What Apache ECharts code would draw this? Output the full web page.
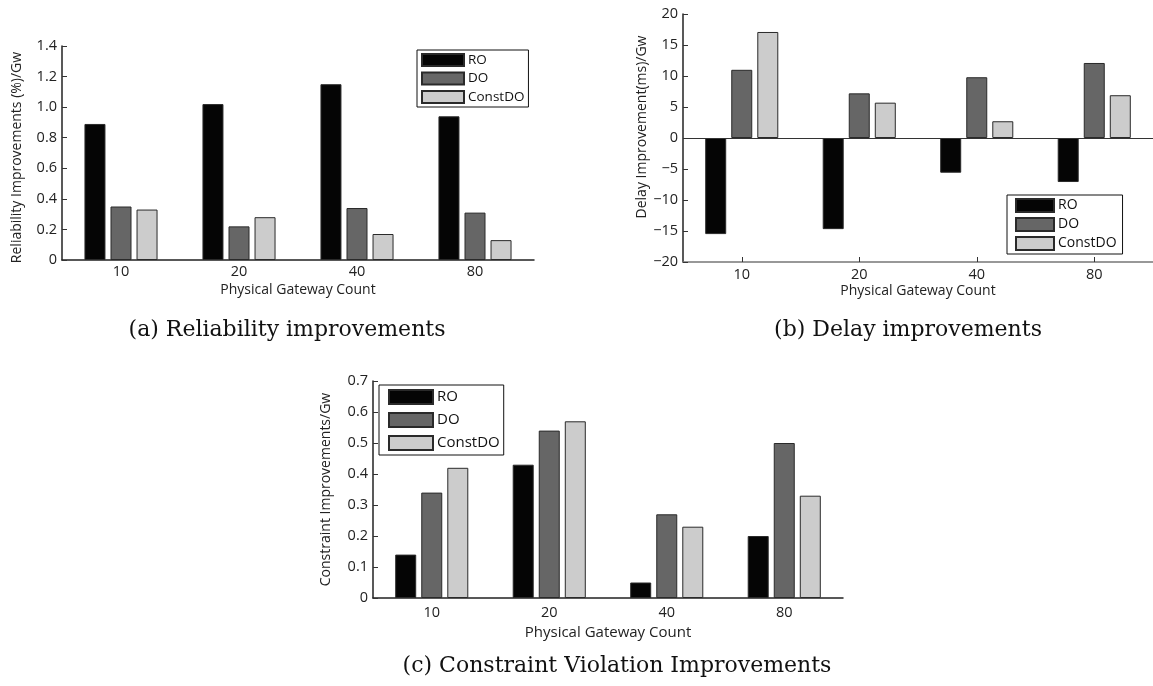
<!DOCTYPE html>
<html>
<head>
<meta charset="utf-8">
<script src="https://cdn.jsdelivr.net/npm/echarts@6/dist/echarts.min.js"></script>
<style>
  html, body { margin: 0; padding: 0; background: #fff; }
  #chart { width: 1153px; height: 686px; }
</style>
</head>
<body>
<div id="chart"></div>
<script>
const categorias = ["10", "20", "40", "80"];
const nombresSeries = ["RO", "DO", "ConstDO"];

// (a) reliability
const fiabRO = [0.89, 1.02, 1.15, 0.94];
const fiabDO = [0.35, 0.22, 0.34, 0.31];
const fiabConstDO = [0.33, 0.28, 0.17, 0.13];

// (b) delay
const retardoRO = [-15.5, -14.7, -5.6, -7.1];
const retardoDO = [11.0, 7.2, 9.8, 12.1];
const retardoConstDO = [17.1, 5.7, 2.7, 6.9];

// (c) constraint violation
const restrRO = [0.14, 0.43, 0.05, 0.20];
const restrDO = [0.34, 0.54, 0.27, 0.50];
const restrConstDO = [0.42, 0.57, 0.23, 0.33];

const colores = ["#050505", "#666666", "#cccccc"];
const fuente = "'Open Sans', sans-serif";
const fuenteTitulo = "22px 'DejaVu Serif', serif";

function ejeX(idx, gap, margen, colorLinea, tamNombre) {
    return {
        type: "category",
        gridIndex: idx,
        data: categorias,
        position: "bottom",
        name: "Physical Gateway Count",
        nameLocation: "middle",
        nameGap: gap,
        nameTextStyle: {color: "#222", fontSize: tamNombre, fontFamily: fuente},
        axisLine: {onZero: false, lineStyle: {color: colorLinea, width: 1.5}},
        axisTick: {show: true, inside: true, alignWithLabel: true, length: 5, lineStyle: {color: "#333"}},
        axisLabel: {color: "#222", fontSize: 14.5, fontFamily: fuente, margin: margen},
        splitLine: {show: false}
    };
}

function ejeY(idx, nombre, min, max, intervalo, gap, relleno, formato) {
    return {
        type: "value",
        gridIndex: idx,
        min: min,
        max: max,
        interval: intervalo,
        name: nombre,
        nameLocation: "middle",
        nameGap: gap,
        nameTextStyle: {color: "#222", fontSize: 14, fontFamily: fuente, padding: relleno},
        axisLine: {show: true, lineStyle: {color: "#222", width: 1.5}},
        axisTick: {show: true, inside: true, length: 5, lineStyle: {color: "#333"}},
        axisLabel: {color: "#222", fontSize: 14.5, fontFamily: fuente, margin: 5, formatter: formato},
        splitLine: {show: false}
    };
}

function serie(nombre, i, idx, datos) {
    return {
        name: nombre,
        type: "bar",
        xAxisIndex: idx,
        yAxisIndex: idx,
        data: datos,
        barWidth: 21,
        barGap: "24%",
        itemStyle: {color: colores[i], borderColor: "#2a2a2a", borderWidth: 1}
    };
}

function leyenda(izq, arriba, ancho, alto, espacio, tam, relleno) {
    return {
        orient: "vertical",
        left: izq,
        top: arriba,
        data: nombresSeries,
        icon: "rect",
        itemWidth: ancho,
        itemHeight: alto,
        itemGap: espacio,
        padding: relleno,
        borderColor: "#111",
        borderWidth: 1,
        backgroundColor: "#fff",
        selectedMode: false,
        textStyle: {color: "#111", fontSize: tam, fontFamily: fuente, padding: [0, 0, 0, -1]}
    };
}

const formatoDecimal = function(v) { return v === 0 ? "0" : v.toFixed(1); };
const formatoMenos = function(v) { return v < 0 ? "\u2212" + Math.abs(v) : String(v); };

const grafico = echarts.init(document.getElementById("chart"));
grafico.setOption({
    animation: false,
    grid: [
        {left: 62, top: 46, width: 472, height: 214},
        {left: 683, top: 14, width: 472, height: 248},
        {left: 373, top: 381, width: 470, height: 217}
    ],
    xAxis: [
        ejeX(0, 23, 4, "#222", 14),
        ejeX(1, 22, 5, "#777", 14),
        ejeX(2, 27, 7, "#222", 15)
    ],
    yAxis: [
        ejeY(0, "Reliability Improvements (%)/Gw", 0, 1.4, 0.2, 38, [0, 9, 0, 0], formatoDecimal),
        ejeY(1, "Delay Improvement(ms)/Gw", -20, 20, 5, 34, [0, 0, 0, 22], formatoMenos),
        ejeY(2, "Constraint Improvements/Gw", 0, 0.7, 0.1, 40, [0, 0, 0, 0], formatoDecimal)
    ],
    legend: [
        leyenda(417, 50, 42, 12, 4.5, 13.5, [3, 4, 3, 4]),
        leyenda(1007, 195, 38, 13, 4, 14, [3, 6, 3, 8]),
        leyenda(379, 385, 44, 14, 7, 15, [4, 4, 4, 9])
    ],
    series: [
        serie("RO", 0, 0, fiabRO),
        serie("DO", 1, 0, fiabDO),
        serie("ConstDO", 2, 0, fiabConstDO),
        Object.assign(serie("RO", 0, 1, retardoRO), {
            markLine: {
                silent: true,
                symbol: "none",
                label: {show: false},
                lineStyle: {color: "#333", width: 1, type: "solid"},
                data: [{yAxis: 0}]
            }
        }),
        serie("DO", 1, 1, retardoDO),
        serie("ConstDO", 2, 1, retardoConstDO),
        serie("RO", 0, 2, restrRO),
        serie("DO", 1, 2, restrDO),
        serie("ConstDO", 2, 2, restrConstDO)
    ],
    graphic: [
        {type: "text", x: 287, y: 330, style: {text: "(a) Reliability improvements", align: "center", verticalAlign: "middle", font: fuenteTitulo, fill: "#111"}},
        {type: "text", x: 908, y: 330, style: {text: "(b) Delay improvements", align: "center", verticalAlign: "middle", font: fuenteTitulo, fill: "#111"}},
        {type: "text", x: 617, y: 666, style: {text: "(c) Constraint Violation Improvements", align: "center", verticalAlign: "middle", font: fuenteTitulo, fill: "#111"}}
    ]
});
</script>
</body>
</html>
